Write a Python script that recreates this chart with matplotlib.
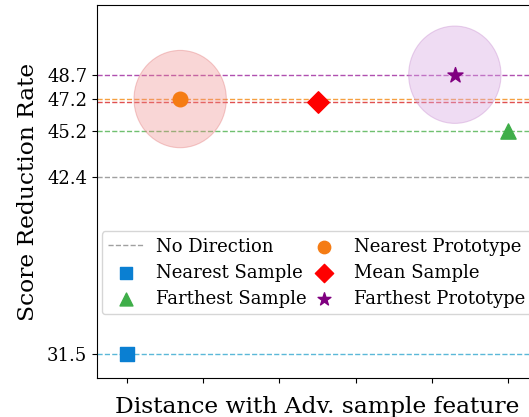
import matplotlib
matplotlib.use("Agg")
import matplotlib.pyplot as plt
from matplotlib.patches import Ellipse

plt.rcParams['font.family'] = ['DejaVu Serif']

# Data
labels = ["Nearest Sample", "Nearest Prototype", "Mean Sample", "Farthest Prototype", "Farthest Sample"]
x_pos = [0.0, 0.7, 2.5, 4.3, 5.0]
scores = [31.5, 47.2, 47.0, 48.7, 45.2]
no_direction = 42.4
markers = ["s", "o", "D", "*", "^"]
colors = ["#0a7fd2", "#f57c14", "#ff0000", "#800080", "#3fae49"]
line_colors = ["#5bb8d8", "#f5a040", "#e05050", "#b050b0", "#70c070"]
ytick_vals = [31.5, 42.4, 45.2, 47.2, 48.7]
xtick_vals = [0, 1, 2, 3, 4, 5]

fig = plt.figure(figsize=(5.29, 4.17), dpi=100)
ax = fig.add_axes([97/529, 39/417, 441/529, 373/417])

ax.axhline(no_direction, color="#a0a0a0", ls="--", lw=1, label="No Direction")
for y, lc in zip(scores, line_colors):
    ax.axhline(y, color=lc, ls="--", lw=1)

# halos
ax.add_patch(Ellipse((x_pos[1], scores[1]), 1.21, 6.0, facecolor="#ee8a8a", alpha=0.35,
                     edgecolor="#e07070", lw=0.8, zorder=2))
ax.add_patch(Ellipse((x_pos[3], scores[3]), 1.21, 6.0, facecolor="#d9a8e3", alpha=0.4,
                     edgecolor="#c890d0", lw=0.8, zorder=2))

sizes = [110, 110, 120, 130, 120]
for xp, y, m, c, lab, sz in zip(x_pos, scores, markers, colors, labels, sizes):
    ax.scatter([xp], [y], marker=m, color=c, s=sz, label=lab, zorder=3)

ax.set_xlim(-0.39, 5.39)
ax.set_ylim(30, 53)
ax.set_yticks(ytick_vals)
ax.set_yticklabels([f"{v}" for v in ytick_vals], fontsize=13)
ax.set_xticks(xtick_vals)
ax.set_xticklabels([])
ax.set_xlabel("Distance with Adv. sample feature", fontsize=16.8, labelpad=6)
ax.set_ylabel("Score Reduction Rate", fontsize=16.8, labelpad=6)

h, l = ax.get_legend_handles_labels()
order = ["No Direction", "Nearest Sample", "Farthest Sample", "Nearest Prototype", "Mean Sample", "Farthest Prototype"]
hd = dict(zip(l, h))
leg = ax.legend([hd[o] for o in order], order, ncol=2, fontsize=13,
                loc="upper left", bbox_to_anchor=(0.0, 0.405), borderaxespad=0.25,
                columnspacing=0.0, handletextpad=0.65, labelspacing=0.45,
                borderpad=0.35, framealpha=0.8, markerscale=0.85)

fig.savefig("out.png", dpi=100)
